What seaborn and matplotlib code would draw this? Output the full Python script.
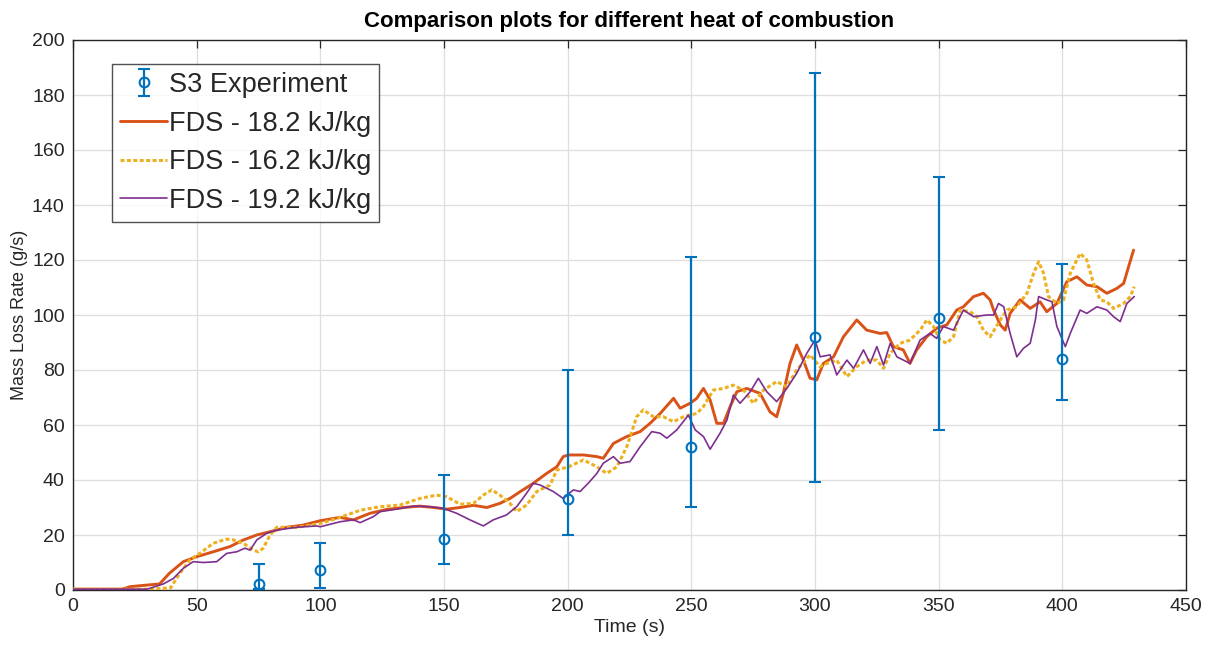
import numpy as np
import pandas as pd
import matplotlib
matplotlib.use("Agg")
import matplotlib.pyplot as plt
import seaborn as sns

# ---- Experiment S3 (mean with lower / upper bounds) ----
exp_time = [75, 100, 150, 200, 250, 300, 350, 400]
exp_mean = [2.2, 7.3, 18.4, 33.0, 52.0, 92.0, 99.0, 84.0]
exp_low = [0.4, 0.7, 9.5, 20.0, 30.2, 39.3, 58.2, 69.0]
exp_high = [9.5, 17.2, 41.9, 80.0, 121.0, 188.0, 150.2, 118.5]

# ---- FDS, heat of combustion 18.2 kJ/kg ----
t_182 = [0, 20, 23, 30, 35, 39, 44.6, 50, 56.7, 63.5, 68.9, 74.3, 79.7, 86.4, 93.1,
         100, 107.9, 113.4, 120.1, 126.8, 133.6, 140.3, 145.7, 151.1, 156.5, 161.9,
         167.3, 172.6, 176.7, 180.7, 186.1, 191.5, 195.6, 198.2, 200.3, 206.4, 211.8,
         214.4, 218.5, 223.9, 229.3, 233.3, 237.4, 242.8, 245.5, 249.5, 252.2, 254.9,
         257.6, 260.3, 263, 265.7, 268.4, 272.4, 277.8, 281.8, 284.5, 287.2, 289.9,
         292.6, 295.3, 298, 300.7, 303.4, 307.5, 311.5, 316.9, 320.9, 326.3, 329,
         331.7, 335.7, 338.4, 341.1, 345.2, 349.2, 353.3, 357.3, 360, 364.1, 368.1,
         370.8, 372.2, 374.9, 376.9, 378.9, 382.9, 387, 391, 393.7, 397.8, 401.8,
         405.9, 409.9, 414, 418, 422.1, 424.8, 426.8, 428.8]
mlr_182 = [0.3, 0.3, 1.2, 1.8, 2.2, 6.1, 10.3, 12.1, 13.9, 15.8, 18.2, 20, 21.2, 22.8, 23.6,
           25.2, 26.4, 25.5, 27.9, 29.3, 30, 30.5, 30, 29.4, 30, 30.8,
           30, 31.5, 33.3, 35.7, 38.8, 42.4, 44.8, 48.5, 49.1, 49.1, 48.5,
           47.9, 53.3, 55.8, 57.6, 60.6, 64.2, 69.7, 66.1, 67.9, 69.7, 73.3,
           69.1, 60.6, 60.6, 66.7, 72.1, 73.3, 71.5, 64.8, 63, 71.5, 82.4,
           89.1, 83.6, 77, 76.4, 82.4, 84.8, 92.1, 98.2, 94.5, 93.3, 93.6,
           88.5, 87.3, 82.4, 87.3, 92.1, 95.2, 96.4, 101.8, 103, 106.7, 107.9,
           105.5, 101.8, 96.4, 94.5, 100.6, 105.5, 102.4, 104.8, 101.2, 104.2, 112.1,
           113.9, 110.9, 110.3, 107.9, 109.7, 111.5, 117.6, 123.6]

# ---- FDS, heat of combustion 16.2 kJ/kg ----
t_162 = [0, 30, 36, 39.5, 43.2, 47.3, 51.4, 56.7, 62.1, 64.8, 68.9, 72.9, 74.9, 76.9,
         79.7, 82.4, 90.5, 100, 107.9, 116.1, 124.2, 132.2, 140.3, 147, 151.1, 156.5,
         161.9, 165.9, 169.3, 172.6, 176.7, 179.4, 183.4, 187.5, 192.9, 195.6, 200.3,
         206.4, 211.8, 215.8, 219.9, 223.9, 227.9, 230.6, 234.7, 238.7, 242.8, 246.8,
         252.2, 254.9, 258.9, 263, 267, 271.1, 275.1, 279.2, 284.5, 288.6, 292.6, 298,
         302, 304.8, 308.8, 312.9, 316.9, 320.9, 325, 327.7, 330.4, 334.4, 338.4,
         342.5, 345.2, 347.9, 350.6, 353.3, 356, 358.7, 362.7, 365.4, 368.1, 370.8,
         374.9, 377.6, 381.6, 385.7, 388.4, 390.4, 392.4, 394.4, 397.8, 400.5, 403.2,
         407.2, 409.9, 412.6, 415.3, 418, 420.7, 424.8, 427.5, 429.1]
mlr_162 = [0.3, 0.3, 0.6, 0.8, 6.1, 11, 13.4, 17, 18.5, 18.2, 17, 14.5, 13.9, 15.2,
           20, 22.8, 22.8, 24.2, 26.4, 29, 30.3, 30.9, 33.3, 34.5, 33.9, 31.2,
           31.5, 34.5, 36.4, 34.5, 31.5, 28.5, 30.9, 35.8, 38.2, 43.6, 44.8,
           47.3, 44.8, 42.4, 44.8, 52.1, 63, 65.5, 63, 63, 61.2, 63,
           64.2, 66.7, 72.7, 73.3, 74.5, 72.7, 67.9, 72.7, 75.8, 73.9, 80, 85.5,
           81.2, 82.4, 83.6, 77.6, 81.2, 83.6, 83.6, 80.6, 86.1, 89.7, 90.9,
           94.5, 98.2, 95.8, 90.9, 89.7, 92.1, 101.8, 101.2, 99.4, 94.5, 92.1,
           98.2, 101.8, 103, 107.9, 115.2, 119.4, 115.2, 106.7, 104.2, 105.5, 115.2,
           122.4, 120, 111.5, 105.5, 104.8, 102.4, 104.2, 106.7, 110.3]

# ---- FDS, heat of combustion 19.2 kJ/kg ----
t_192 = [0, 30, 36.5, 40.6, 44.6, 48.6, 52.7, 58.1, 62.1, 66.2, 69.5, 71.6, 74.3, 78.3,
         82.4, 90.5, 98.5, 100, 107.9, 113.4, 116.1, 121.5, 124.2, 130.9, 137.6, 144.4,
         149.7, 155.1, 160.5, 165.9, 169.9, 175.3, 179.4, 183.4, 186.1, 188.8, 194.2,
         198.2, 202.3, 205, 208.5, 211.8, 214.4, 218.5, 221.2, 225.2, 229.3, 234,
         237.4, 240.1, 244.1, 248.8, 251.6, 254.9, 257.6, 261.6, 264.4, 267, 269.7,
         273.8, 277.1, 280.5, 284.5, 288.6, 292.6, 296.7, 300, 302.1, 306.1, 308.8,
         312.9, 315.6, 319.6, 322.3, 325, 327.7, 330.4, 333.1, 338.4, 342.5, 346.5,
         349.2, 351.9, 356, 360, 364.1, 369.5, 372.2, 374.2, 376.3, 378.9, 381.6,
         384.3, 387, 389.1, 390.4, 393.7, 395.8, 397.8, 401.2, 403.2, 407.2, 409.9,
         414, 418, 420.7, 423.4, 426.1, 429.1]
mlr_192 = [0.3, 0.3, 2.2, 4.2, 7.9, 10.3, 10, 10.3, 13.3, 13.9, 15.2, 14.5, 18.2, 20.6,
           21.8, 22.8, 23.3, 23, 24.8, 25.5, 24.5, 26.7, 28.5, 29.4, 30.5, 30.3,
           29.7, 27.9, 25.5, 23.3, 25.5, 27.3, 30.3, 35.2, 38.8, 38.2, 35.8,
           33.3, 36.4, 35.8, 39, 42.4, 46.1, 48.5, 46.1, 46.7, 52.1, 57.6,
           57, 55.2, 58.2, 63.6, 58.2, 55.8, 51.2, 57, 61.8, 70.9, 67.9,
           72.1, 77, 72.1, 68.5, 73.3, 78.8, 86.1, 90.9, 84.8, 85.5, 78.2,
           83.6, 80.6, 87.3, 82.4, 88.5, 81.8, 89.7, 84.8, 82.4, 90.9, 93.3,
           91.5, 95.8, 94.5, 101.8, 99.4, 100, 100, 104.2, 103, 93.3, 84.8,
           87.9, 89.7, 98.2, 106.7, 105.5, 104.8, 95.8, 88.5, 93.3, 101.8, 100.6,
           103, 101.8, 99.4, 97.6, 104.2, 106.7]

labels = ["S3 Experiment", "FDS - 18.2 kJ/kg", "FDS - 16.2 kJ/kg", "FDS - 19.2 kJ/kg"]
colors = ["#0072BD", "#D95319", "#EDB120", "#7E2F8E"]

sns.set_style("white")
plt.rcParams["font.family"] = ["Liberation Sans", "DejaVu Sans"]

fig = plt.figure(figsize=(12.16, 6.47), dpi=100)
ax = fig.add_axes([73 / 1216, 57 / 647, 1113 / 1216, 550 / 647])

df = pd.concat([
    pd.DataFrame({"Time (s)": t_182, "Mass Loss Rate (g/s)": mlr_182, "run": labels[1]}),
    pd.DataFrame({"Time (s)": t_162, "Mass Loss Rate (g/s)": mlr_162, "run": labels[2]}),
    pd.DataFrame({"Time (s)": t_192, "Mass Loss Rate (g/s)": mlr_192, "run": labels[3]}),
])

# experiment with asymmetric bounds
exp_mean_a = np.array(exp_mean)
yerr = [exp_mean_a - np.array(exp_low), np.array(exp_high) - exp_mean_a]
eb = ax.errorbar(exp_time, exp_mean, yerr=yerr, fmt="o", color=colors[0],
                 mfc="none", mec=colors[0], ms=7, mew=1.5, elinewidth=1.6,
                 capsize=4.5, capthick=1.6, label=labels[0], zorder=4)

styles = {labels[1]: dict(lw=2.1, ls="-"),
          labels[2]: dict(lw=2.2, ls=(0, (1.3, 0.8))),
          labels[3]: dict(lw=1.2, ls="-")}
line_handles = []
for lab, col in zip(labels[1:], colors[1:]):
    sub = df[df["run"] == lab]
    sns.lineplot(data=sub, x="Time (s)", y="Mass Loss Rate (g/s)", ax=ax,
                 color=col, estimator=None, sort=False, legend=False,
                 linewidth=styles[lab]["lw"], linestyle=styles[lab]["ls"], zorder=3)
    line_handles.append(ax.lines[-1])

ax.set_xlim(0, 450)
ax.set_ylim(0, 200)
ax.set_xticks(np.arange(0, 451, 50))
ax.set_yticks(np.arange(0, 201, 20))
ax.grid(True, color="#dedede", linewidth=0.9)
ax.set_axisbelow(True)
for sp in ax.spines.values():
    sp.set_color("#262626")
    sp.set_linewidth(1.0)
ax.tick_params(direction="in", length=6, width=0.9, top=True, right=True,
               labelsize=14, colors="#262626", pad=6)
ax.set_xlabel("Time (s)", fontsize=14, color="#262626", labelpad=3)
ax.set_ylabel("Mass Loss Rate (g/s)", fontsize=13, color="#262626", labelpad=3)
ax.set_title("Comparison plots for different heat of combustion",
             fontsize=16, fontweight="bold", color="black", pad=9)

leg = ax.legend([eb] + line_handles, labels, loc="upper left",
                bbox_to_anchor=(0.035, 0.957), borderaxespad=0, fontsize=19.5,
                frameon=True, fancybox=False, edgecolor="#262626",
                handlelength=1.75, handletextpad=0.05, labelspacing=0.47,
                borderpad=0.3)
leg.get_frame().set_linewidth(1.0)

fig.savefig("out.png", dpi=100)
